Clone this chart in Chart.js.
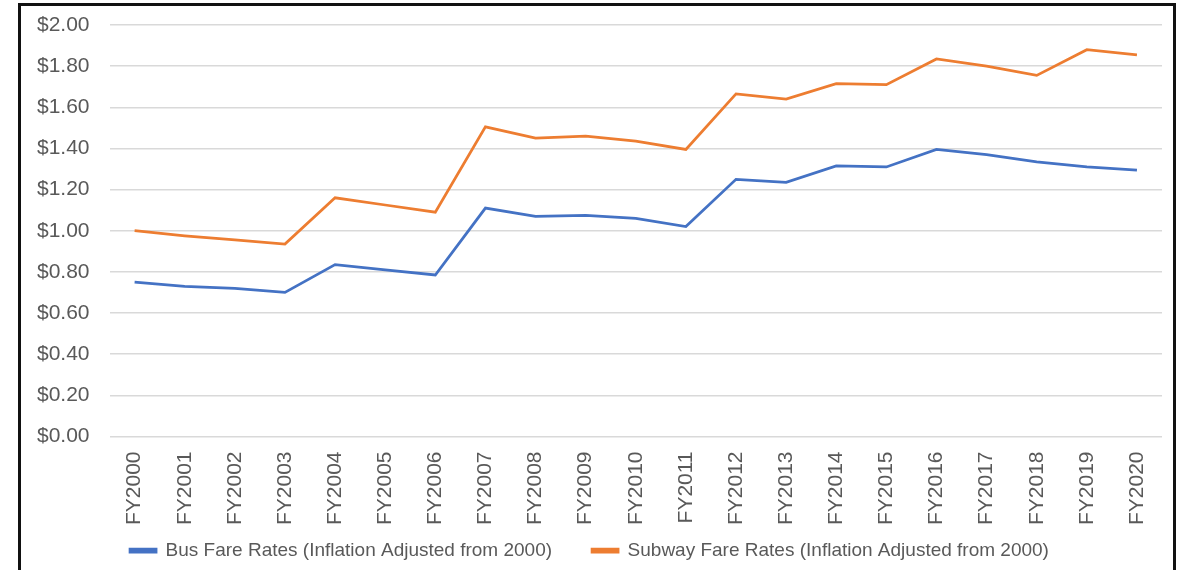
<!DOCTYPE html>
<html>
<head>
<meta charset="utf-8">
<script src="https://cdn.jsdelivr.net/npm/chart.js@4/dist/chart.umd.min.js"></script>
<style>
    html, body { margin: 0; padding: 0; background: #fff; overflow: hidden; }
    #frame {
        position: absolute; left: 18px; top: 3px;
        width: 1152px; height: 600px;
        border: 3px solid #111; border-bottom: none;
    }
    #wrap { position: absolute; left: 0; top: 0; width: 1180px; height: 570px; }
</style>
</head>
<body>
<div id="frame"></div>
<div id="wrap"><canvas id="chart"></canvas></div>
<script>
const years = ['FY2000', 'FY2001', 'FY2002', 'FY2003', 'FY2004', 'FY2005', 'FY2006',
    'FY2007', 'FY2008', 'FY2009', 'FY2010', 'FY2011', 'FY2012', 'FY2013', 'FY2014',
    'FY2015', 'FY2016', 'FY2017', 'FY2018', 'FY2019', 'FY2020'];

const bus_fares = [0.75, 0.73, 0.72, 0.70, 0.835, 0.81, 0.785, 1.11, 1.07, 1.075, 1.06,
    1.02, 1.25, 1.235, 1.315, 1.31, 1.395, 1.37, 1.335, 1.31, 1.295];

const subway_fares = [1.00, 0.975, 0.955, 0.935, 1.16, 1.125, 1.09, 1.505, 1.45, 1.46, 1.435,
    1.395, 1.665, 1.64, 1.715, 1.71, 1.835, 1.80, 1.755, 1.88, 1.855];

const y_ticks = [0, 0.2, 0.4, 0.6, 0.8, 1.0, 1.2, 1.4, 1.6, 1.8, 2.0];

const grey = '#595959';
const font_main = { family: '"Liberation Sans", Arial, sans-serif', size: 21 };

// legend keeps its wide item gap but gives back some vertical room to the plot
const LEGEND_SHRINK = 31;
const legendTighten = {
    id: 'legendTighten',
    afterInit(chart) {
        const legend = chart.legend;
        const fit = legend.fit, draw = legend.draw;
        legend.fit = function () {
            fit.call(this);
            this.height -= LEGEND_SHRINK;
        };
        legend.draw = function () {
            this.top -= LEGEND_SHRINK;
            draw.call(this);
            this.top += LEGEND_SHRINK;
        };
    }
};

const ctx = document.getElementById('chart');
const chart = new Chart(ctx, {
    type: 'line',
    data: {
        labels: years,
        datasets: [
            {
                label: 'Bus Fare Rates (Inflation Adjusted from 2000)',
                data: bus_fares,
                borderColor: '#4472C4',
                backgroundColor: '#4472C4',
                borderWidth: 2.75,
                pointRadius: 0,
                tension: 0
            },
            {
                label: 'Subway Fare Rates (Inflation Adjusted from 2000)',
                data: subway_fares,
                borderColor: '#ED7D31',
                backgroundColor: '#ED7D31',
                borderWidth: 2.75,
                pointRadius: 0,
                tension: 0
            }
        ]
    },
    plugins: [legendTighten],
    options: {
        responsive: true,
        maintainAspectRatio: false,
        animation: false,
        layout: { padding: { left: 17, right: 18, top: 25, bottom: 0 } },
        plugins: {
            tooltip: { enabled: false },
            legend: {
                position: 'bottom',
                labels: {
                    color: grey,
                    boxWidth: 26,
                    boxHeight: 3,
                    padding: 40,
                    font: { family: '"Liberation Sans Narrow", "Arial Narrow", "Liberation Sans", sans-serif', size: 19 }
                }
            }
        },
        scales: {
            x: {
                offset: true,
                grid: { display: false },
                border: { display: false },
                ticks: {
                    color: grey,
                    font: font_main,
                    minRotation: 90,
                    maxRotation: 90,
                    padding: 7
                }
            },
            y: {
                min: 0,
                max: 2,
                afterBuildTicks: axis => {
                    axis.ticks = y_ticks.map(v => ({ value: v }));
                },
                afterFit: axis => {
                    axis.paddingTop = 0;
                    axis.paddingBottom = 0;
                },
                grid: { color: '#d9d9d9', lineWidth: 1.5, drawTicks: false },
                border: { display: false },
                ticks: {
                    color: grey,
                    font: font_main,
                    padding: 20,
                    callback: v => '$' + Number(v).toFixed(2)
                }
            }
        }
    }
});
</script>
</body>
</html>
